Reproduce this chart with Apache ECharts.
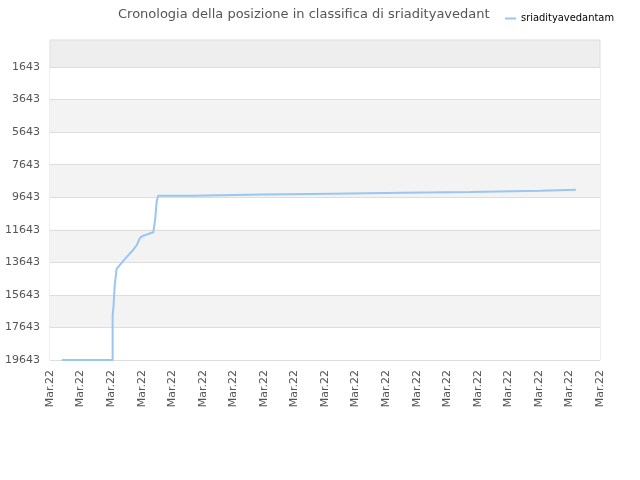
<!DOCTYPE html>
<html>
<head>
<meta charset="utf-8">
<script src="https://cdn.jsdelivr.net/npm/echarts@6/dist/echarts.min.js"></script>
<style>html,body{margin:0;padding:0;background:#fff}#c{width:640px;height:480px}</style>
</head>
<body>
<div id="c"></div>
<script>
const xLabels = ['Mar.22','Mar.22','Mar.22','Mar.22','Mar.22','Mar.22','Mar.22','Mar.22','Mar.22','Mar.22','Mar.22','Mar.22','Mar.22','Mar.22','Mar.22','Mar.22','Mar.22','Mar.22','Mar.22'];
const yTicks = [1643, 3643, 5643, 7643, 9643, 11643, 13643, 15643, 17643, 19643];
const seriesName = 'sriadityavedantam';
const times = [0.39, 2.05, 2.05, 2.08, 2.12, 2.18, 2.51, 2.72, 2.84, 2.95, 3.05, 3.38, 3.41, 3.44, 3.49, 3.54, 4.67, 4.67, 6.96, 6.96, 9.23, 9.23, 11.52, 11.52, 13.77, 13.77, 16.07, 16.07, 17.21];
const ranks = [19643, 19643, 16900, 16300, 15000, 14050, 13314, 12884, 12577, 12128, 12006, 11797, 11760, 11041, 9917, 9545, 9545, 9483, 9483, 9422, 9422, 9361, 9361, 9318, 9318, 9238, 9238, 9177, 9177];

const chart = echarts.init(document.getElementById('c'));
chart.setOption({
  animation: false,
  title: {
    text: 'Cronologia della posizione in classifica di sriadityavedant',
    left: 113, top: 3,
    textStyle: {fontSize: 13, fontWeight: 'normal', color: '#555', fontFamily: 'DejaVu Sans'}
  },
  legend: {
    left: 500, top: 8,
    icon: 'rect', itemWidth: 11, itemHeight: 2, itemGap: 5,
    textStyle: {fontSize: 11, color: '#000', fontFamily: 'DejaVu Sans Condensed'},
    data: [seriesName]
  },
  grid: {
    left: 50, right: 40, top: 40, bottom: 120,
    show: true, backgroundColor: '#eeeeee', borderColor: '#dddddd', borderWidth: 1
  },
  xAxis: {
    type: 'value', min: 0, max: xLabels.length - 1, interval: 1,
    axisLine: {show: false}, axisTick: {show: false}, splitLine: {show: false},
    axisLabel: {rotate: 90, fontSize: 11, color: '#555', fontFamily: 'DejaVu Sans', margin: 10,
      formatter: (v) => xLabels[Math.round(v)] || ''}
  },
  yAxis: {
    type: 'value', inverse: true, min: -16, max: 19643,
    axisLine: {show: false},
    axisTick: {show: false, customValues: yTicks},
    axisLabel: {fontSize: 11, color: '#555', fontFamily: 'DejaVu Sans', margin: 10, customValues: yTicks,
      formatter: (v) => String(v)},
    splitLine: {show: true, lineStyle: {color: '#dddddd', width: 1}},
    splitArea: {show: true, areaStyle: {color: ['#ffffff', '#f3f3f3']}}
  },
  series: [{
    name: seriesName, type: 'line', showSymbol: false, symbol: 'none',
    data: times.map((t, i) => [t, ranks[i]]),
    lineStyle: {color: '#99c6f3', width: 2},
    itemStyle: {color: '#99c6f3'}
  }]
});
</script>
</body>
</html>
